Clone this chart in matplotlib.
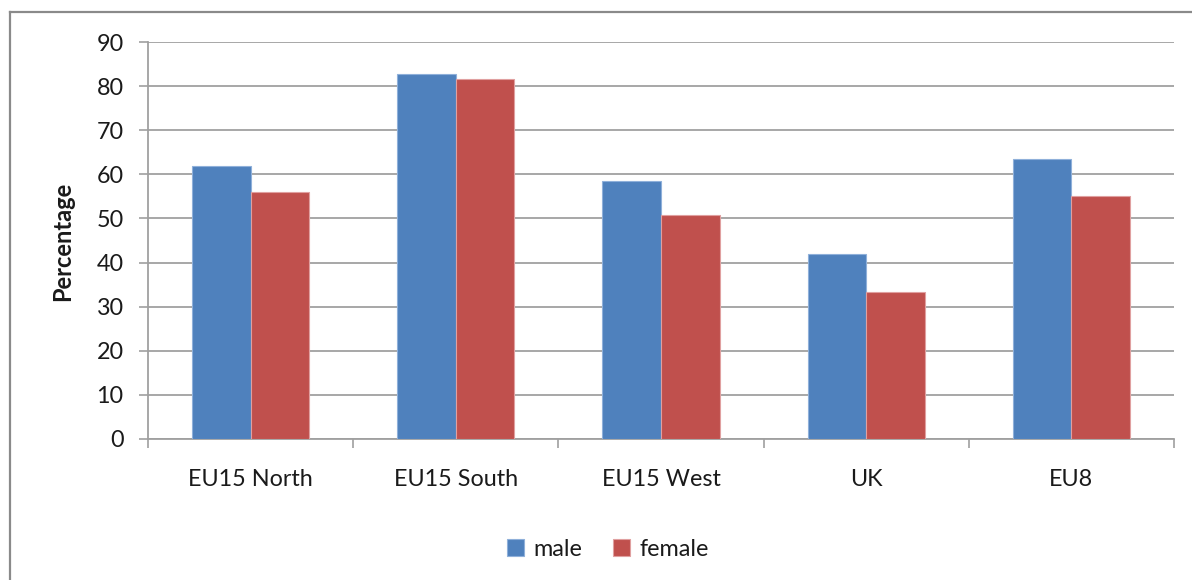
import matplotlib
matplotlib.use("Agg")
import matplotlib.pyplot as plt
from matplotlib.lines import Line2D
import numpy as np

categories = ["EU15 North", "EU15 South", "EU15 West", "UK", "EU8"]
male = [61.9, 82.9, 58.4, 41.9, 63.4]
female = [56.1, 81.7, 50.8, 33.3, 55.2]
series_names = ["male", "female"]
yticks = [0, 10, 20, 30, 40, 50, 60, 70, 80, 90]

plt.rcParams['font.family'] = ['Lato', 'DejaVu Sans']

W, H = 1192, 580
fig = plt.figure(figsize=(W / 100, H / 100), dpi=100)
fig.patch.set_facecolor('white')

left, right, top, bottom = 148, 1174, 42.3, 438.7
ax = fig.add_axes([left / W, 1 - bottom / H, (right - left) / W, (bottom - top) / H])

x = np.arange(len(categories))
w = 1 / 3.5
blue = '#4F81BD'
red = '#C0504D'
ax.bar(x - w / 2, male, width=w, color=blue, edgecolor='#8FB0DA', linewidth=0.8, label=series_names[0], zorder=3)
ax.bar(x + w / 2, female, width=w, color=red, edgecolor='#E0A0A0', linewidth=0.8, label=series_names[1], zorder=3)

ax.set_xlim(-0.5, len(categories) - 0.5)
ax.set_ylim(0, 90)
ax.set_yticks(yticks)
ax.set_yticklabels([str(v) for v in yticks])
ax.yaxis.grid(True, color='#A0A0A0', linewidth=1.3, zorder=0)
ax.set_axisbelow(True)

for s in ['top', 'right']:
    ax.spines[s].set_visible(False)
for s in ['left', 'bottom']:
    ax.spines[s].set_color('#A0A0A0')
    ax.spines[s].set_linewidth(1.3)

# major x ticks at boundaries, labels on minor ticks at centers
ax.set_xticks(np.arange(-0.5, len(categories), 1.0))
ax.set_xticklabels([])
ax.set_xticks(x, minor=True)
ax.set_xticklabels(categories, minor=True)
ax.tick_params(axis='x', which='major', direction='out', length=6.5, width=1.2, color='#A0A0A0')
ax.tick_params(axis='x', which='minor', length=0, pad=22, labelsize=16.8, labelcolor='#1a1a1a')
ax.tick_params(axis='y', direction='out', length=6.5, width=1.2, color='#A0A0A0', pad=11, labelsize=16.8, labelcolor='#1a1a1a')

fig.text(63 / W, 1 - 241 / H, 'Percentage', rotation=90, ha='center', va='center',
         fontsize=17, fontweight='bold', color='#1a1a1a')

fig.legend(loc='center', bbox_to_anchor=(608 / W, 1 - 549 / H), ncol=2, frameon=False,
           fontsize=16.8, handlelength=0.75, handleheight=0.75, handletextpad=0.4,
           columnspacing=1.3, labelcolor='#1a1a1a')

# outer chart border (top and left visible)
border_color = '#8A8A8A'
fig.add_artist(Line2D([10 / W, 10 / W], [0, 1 - 12 / H], color=border_color, linewidth=1.6))
fig.add_artist(Line2D([10 / W, 1.0], [1 - 12 / H, 1 - 12 / H], color=border_color, linewidth=1.6))

fig.savefig('out.png', dpi=100)
